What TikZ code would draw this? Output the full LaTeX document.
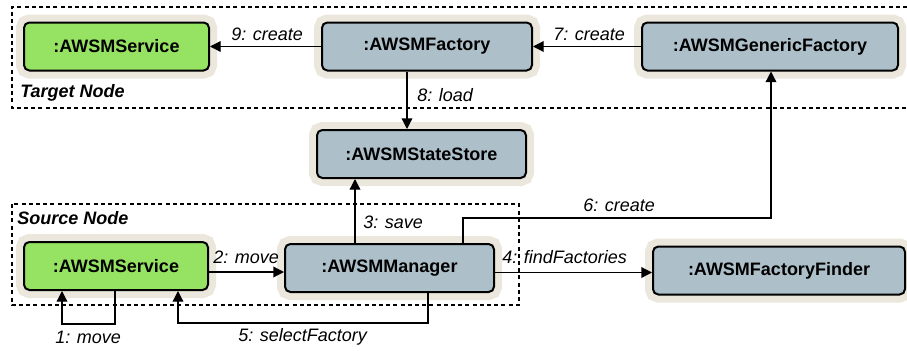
\documentclass[tikz,border=0pt]{standalone}
\usepackage{fontspec}
\setmainfont{Liberation Sans}
\usetikzlibrary{calc,arrows.meta}
\definecolor{svcgreen}{RGB}{150,226,98}
\definecolor{objgrey}{RGB}{173,191,201}
\definecolor{haloc}{RGB}{235,231,220}
\begin{document}
\begin{tikzpicture}[x=0.75pt,y=-0.75pt,
  obj/.style={draw=black, line width=1.5pt, rounded corners=4pt,
    minimum height=36pt, inner sep=0pt,
    font=\fontsize{13.5}{16}\selectfont\bfseries,
    preaction={draw=haloc, line width=12pt}},
  svc/.style={obj, fill=svcgreen},
  comp/.style={obj, fill=objgrey},
  arr/.style={-{Triangle[length=8pt,width=8pt]}, line width=1pt},
  lbl/.style={anchor=west, inner sep=0pt, font=\fontsize{13.5}{16}\selectfont\itshape},
  grplbl/.style={anchor=west, inner sep=0pt, font=\fontsize{13.5}{16}\selectfont\bfseries\itshape},
  grp/.style={line width=0.8pt, dash pattern=on 3pt off 2.4pt}]
\useasboundingbox (0,0) rectangle (907,350);

% deployment groups
\draw[grp] (907,7) -- (12,7) -- (12,108) -- (907,108);
\node[grplbl] (tgt) at (20,93) {Target Node};
\draw[grp] (12,204) rectangle (519,305);
\node[grplbl] (src) at (17,218) {Source Node};

% objects
\node[svc,  minimum width=138.75pt] (tsvc)   at (116.5,46.5) {:AWSMService};
\node[comp, minimum width=157.5pt]  (fac)    at (427,46.5)   {:AWSMFactory};
\node[comp, minimum width=192pt]    (gen)    at (770,46.5)   {:AWSMGenericFactory};
\node[comp, minimum width=156.75pt] (store)  at (421.5,154)  {:AWSMStateStore};
\node[svc,  minimum width=138pt]    (ssvc)   at (116,266)    {:AWSMService};
\node[comp, minimum width=156.75pt] (mgr)    at (389.5,268)  {:AWSMManager};
\node[comp, minimum width=189pt]    (finder) at (779,270.5)  {:AWSMFactoryFinder};

% messages
\draw[arr] ($(ssvc.south)+(-1,0)$) -- ++(0,33) -| ($(ssvc.south)+(-54,0)$);
\node[lbl] (m1) at (55,337) {1: move};
\draw[arr] ($(ssvc.east)+(0,6)$) -- ($(mgr.west)+(0,4)$);
\node[lbl] (m2) at (213,257) {2: move};
\draw[arr] ($(mgr.north)+(-34.5,0)$) -- ($(store.south)+(-66.5,0)$);
\node[lbl] (m3) at (363,222) {3: save};
\draw[arr] ($(mgr.east)+(0,4.5)$) -- ($(finder.west)+(0,2)$);
\node[lbl] (m4) at (502,257) {4: findFactories};
\draw[arr] ($(mgr.south)+(38.5,0)$) -- ++(0,30) -| ($(ssvc.south)+(62,0)$);
\node[lbl] (m5) at (238,337) {5: selectFactory};
\draw[arr] ($(mgr.north)+(73.5,0)$) -- ++(0,-25) -| ($(gen.south)+(1,0)$);
\node[lbl] (m6) at (583,205) {6: create};
\draw[arr] (gen.west) -- (fac.east);
\node[lbl] (m7) at (553,34) {7: create};
\draw[arr] ($(fac.south)+(-20,0)$) -- ($(store.north)+(-14.5,0)$);
\node[lbl] (m8) at (417,95) {8: load};
\draw[arr] (fac.west) -- (tsvc.east);
\node[lbl] (m9) at (231,34) {9: create};
\end{tikzpicture}
\end{document}
